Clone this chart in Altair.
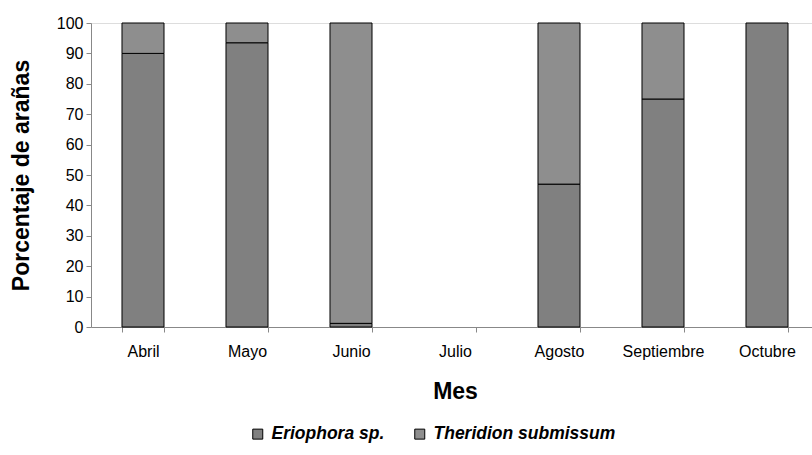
import altair as alt
import pandas as pd

# Monthly share of the two spider species (percent of spiders found)
months = ["Abril", "Mayo", "Junio", "Julio", "Agosto", "Septiembre", "Octubre"]
eriophora = [90, 93.5, 1.2, 0, 47, 75, 100]
theridion = [10, 6.5, 98.8, 0, 53, 25, 0]
species = ["Eriophora sp.", "Theridion submissum"]
colors = ["#808080", "#8e8e8e"]

rows = []
for m, e, t in zip(months, eriophora, theridion):
    for i, (sp, v) in enumerate(zip(species, [e, t])):
        if v > 0:
            rows.append({"Mes": m, "Especie": sp, "Porcentaje": v, "orden": i})
df = pd.DataFrame(rows)

FONT = "Liberation Sans"

bars = alt.Chart(df).mark_bar(stroke="black", strokeWidth=1, opacity=1).encode(
    x=alt.X(
        "Mes:N",
        sort=months,
        scale=alt.Scale(domain=months, range=[0, 728], paddingInner=0.596, paddingOuter=0.298),
        axis=alt.Axis(
            title="Mes",
            grid=False,
            tickBand="extent",
            labelAngle=0,
            labelFontSize=16,
            labelPadding=11,
            tickSize=5,
            titleFontSize=23,
            titleFontWeight="bold",
            titleX=364,
            titleY=64,
            titleBaseline="middle",
        ),
    ),
    y=alt.Y(
        "Porcentaje:Q",
        stack="zero",
        scale=alt.Scale(domain=[0, 100], nice=False),
        axis=alt.Axis(
            title="Porcentaje de arañas",
            grid=False,
            values=list(range(0, 101, 10)),
            labelFontSize=16,
            labelPadding=3,
            tickSize=5,
            titleFontSize=23,
            titleFontWeight="bold",
            titleX=-70,
            titleY=152,
            titleBaseline="middle",
            titleAngle=-90,
        ),
    ),
    color=alt.Color(
        "Especie:N",
        scale=alt.Scale(domain=species, range=colors),
        legend=alt.Legend(
            title=None,
            orient="none",
            direction="horizontal",
            legendX=158,
            legendY=402,
            padding=0,
            symbolType="square",
            symbolSize=100,
            symbolStrokeColor="black",
            symbolStrokeWidth=1,
            symbolOpacity=1,
            labelFontSize=17.5,
            labelFontStyle="italic",
            labelFontWeight="bold",
            labelColor="black",
            labelOffset=5,
            labelLimit=0,
            columnPadding=26,
        ),
    ),
    order=alt.Order("orden:Q"),
)

chart = bars.properties(
    width=721,
    height=304,
    autosize=alt.AutoSizeParams(type="none"),
    padding={"left": 91, "top": 23, "right": 0, "bottom": 128},
).configure_view(
    stroke=None
).configure_axis(
    grid=False,
    domainColor="black",
    tickColor="black",
    labelColor="black",
    titleColor="black",
    labelFont=FONT,
    titleFont=FONT,
    domainWidth=1,
    tickWidth=1,
).configure_legend(
    labelFont=FONT
).configure(
    background="white"
)

chart.save("out.html", embed_options={"renderer": "svg", "actions": False})
